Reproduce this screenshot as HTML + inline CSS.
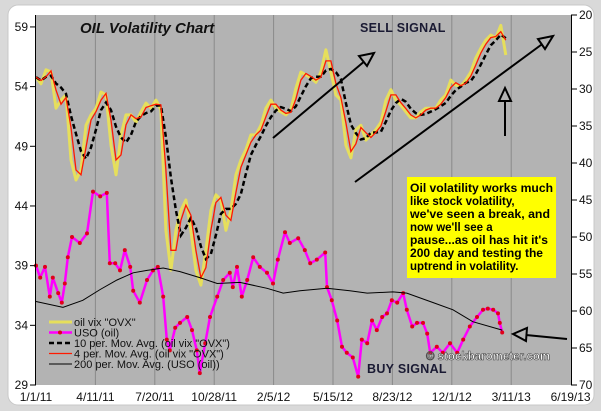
<!DOCTYPE html>
<html><head><meta charset="utf-8"><style>
html,body{margin:0;padding:0;background:#d9d9d9;}
svg{display:block;font-family:"Liberation Sans",Arial,sans-serif;}
</style></head><body>
<svg id="chart" width="601" height="411" viewBox="0 0 601 411">
<rect x="0" y="0" width="601" height="411" fill="#d9d9d9"/>
<rect x="8" y="5" width="586" height="400" rx="10" fill="#ffffff" stroke="#c8c8c8"/>
<rect x="36" y="15" width="535" height="370" fill="#b3b3b3"/>
<g id="grid"></g>
<g id="series"></g>
<g id="axes"></g>
<text x="80" y="33" font-size="15" font-weight="bold" font-style="italic" fill="#111">OIL  Volatility Chart</text>
<text x="360" y="32" font-size="12.5" font-weight="bold" fill="#1a1a33" style="letter-spacing:0.3px">SELL  SIGNAL</text>
<text x="367" y="373" font-size="12.5" font-weight="bold" fill="#1a1a33" style="letter-spacing:0.3px">BUY  SIGNAL</text>
<g stroke="#000" stroke-width="2" fill="none">
<line x1="273" y1="138" x2="366" y2="60"/>
<polygon points="374,53 359,56 367,66" fill="#b3b3b3"/>
<line x1="355" y1="182" x2="545" y2="42"/>
<polygon points="553,36 538,39 545,49" fill="#b3b3b3"/>
<line x1="505" y1="136" x2="505" y2="101"/>
<polygon points="505,88 499,101 511,101" fill="#b3b3b3"/>
<line x1="567" y1="339" x2="526" y2="335"/>
<polygon points="513,334 527,328 526,341" fill="#b3b3b3"/>
</g>
<rect x="407" y="177" width="149" height="101" fill="#ffff00"/>
<g font-size="11.5" font-weight="bold" fill="#000">
<text x="410" y="192" textLength="143" lengthAdjust="spacingAndGlyphs">Oil volatility works much</text>
<text x="410" y="205">like stock volatility,</text>
<text x="410" y="218" textLength="140" lengthAdjust="spacingAndGlyphs">we've seen a break, and</text>
<text x="410" y="231">now we'll see a</text>
<text x="410" y="244" textLength="138" lengthAdjust="spacingAndGlyphs">pause...as oil has hit it's</text>
<text x="410" y="257" textLength="133" lengthAdjust="spacingAndGlyphs">200 day and testing the</text>
<text x="410" y="270">uptrend in volatility.</text>
</g>
<text x="426" y="360" font-size="11.5" font-weight="bold" fill="#fff" stroke="#444" stroke-width="0.6">© stockbarometer.com</text>
<g id="legend" font-size="11" fill="#111"></g>
</svg>
<script>
// ---- data ----
var xTickLabels = ["1/1/11","4/11/11","7/20/11","10/28/11","2/5/12","5/15/12","8/23/12","12/1/12","3/11/13","6/19/13"];
var leftTicks = [59,54,49,44,39,34,29];
var rightTicks = [20,25,30,35,40,45,50,55,60,65,70];
var ovxStartDay = 0;
var ovxStepDays = 8.33;
var ovx = [28.4,29.3,27.4,27.7,32.6,31.5,30.8,39.6,42.3,40.9,34.9,33.5,32.6,30.4,30.8,37.6,41.6,36.2,33.5,33.5,34.5,33.1,31.9,32.6,31.5,32.8,49.1,54.5,49.1,46.4,45.0,49.1,54.5,56.5,51.8,46.4,44.3,45.0,49.1,46.4,41.6,39.6,38.2,36.2,36.2,34.9,32.6,31.5,32.6,33.1,33.5,32.8,29.9,27.7,28.1,28.5,29.1,27.7,24.7,27.7,30.8,31.5,37.6,39.3,35.5,34.9,36.9,36.2,35.5,34.5,31.5,30.1,31.5,32.2,33.1,33.9,33.9,33.1,32.6,32.6,32.6,31.5,30.8,28.8,29.5,29.6,28.8,27.7,25.8,24.5,23.4,22.7,23.1,21.4,25.4];
var usoDays = [0,7,15,23,28,37,43,48,53,60,73,85,95,107,118,123,132,140,148,157,162,173,185,195,203,212,218,223,232,240,252,260,268,273,282,290,302,312,323,328,335,343,352,362,373,385,395,403,415,423,437,448,457,468,482,485,493,502,510,518,528,537,543,552,560,568,577,585,593,602,612,618,627,635,645,652,657,668,678,690,702,712,723,735,745,753,762,770,773,777];
var usoVals = [39.0,38.0,38.9,36.4,38.0,36.7,35.9,37.5,39.7,41.4,40.9,41.7,45.2,44.8,45.1,39.2,39.2,38.6,40.3,38.9,36.9,35.9,37.8,38.6,38.9,36.4,32.8,31.9,33.8,34.2,34.7,33.6,31.9,30.0,32.5,34.7,36.4,37.8,38.4,37.2,38.9,36.4,37.8,39.7,38.9,38.4,37.5,39.5,41.8,40.9,41.3,40.3,39.2,39.5,40.1,37.2,36.1,34.4,32.2,31.7,31.3,29.7,32.8,32.5,34.4,33.6,34.7,35.0,36.1,35.9,36.7,35.3,33.9,34.2,34.2,33.3,31.7,32.2,31.7,32.5,31.7,32.8,33.9,34.7,35.3,35.4,35.3,35.0,34.2,33.4];
var ma200Days = [0,45,78,107,135,162,185,212,240,273,302,340,385,412,440,485,523,552,595,618,662,695,728,777];
var ma200Vals = [36.0,35.5,36.1,37.0,37.8,38.4,38.6,38.8,38.5,38.0,37.5,37.6,37.1,36.7,36.9,37.1,36.9,36.7,36.8,36.7,35.9,35.3,34.3,33.6];

// ---- scales ----
var X0=36, PX_PER_DAY=0.6;
function xScale(d){return X0 + d*PX_PER_DAY;}
function yLeft(v){return 15 + (60-v)*(370/31);}
function yRight(v){return 15 + (v-20)*(370/50);}
var NS="http://www.w3.org/2000/svg";
function mk(tag,attrs,parent){var e=document.createElementNS(NS,tag);for(var k in attrs)e.setAttribute(k,attrs[k]);parent.appendChild(e);return e;}
var grid=document.getElementById('grid'), axes=document.getElementById('axes'), series=document.getElementById('series'), legend=document.getElementById('legend');

xTickLabels.forEach(function(l,i){
  var x=xScale(i*99);
  if(i>0&&i<xTickLabels.length-1){var g=mk('line',{x1:x,y1:15,x2:x,y2:385,stroke:'#8a8a8a','stroke-width':1},grid);
  
  }
  var t=mk('text',{x:x,y:401,'font-size':12,'text-anchor':'middle',fill:'#111'},axes);t.textContent=l;
  
  
});
var la=mk('line',{x1:35.5,y1:15,x2:35.5,y2:385,stroke:'#000','stroke-width':1},axes);


var ra=mk('line',{x1:571.5,y1:15,x2:571.5,y2:385,stroke:'#000','stroke-width':1},axes);


leftTicks.forEach(function(v){var y=yLeft(v);
  mk('line',{x1:30,y1:y,x2:36,y2:y,stroke:'#000'},axes);
  var t=mk('text',{x:28,y:y+4,'font-size':12,'text-anchor':'end',fill:'#111'},axes);t.textContent=v;
  
  });
rightTicks.forEach(function(v){var y=yRight(v);
  mk('line',{x1:571,y1:y,x2:577,y2:y,stroke:'#000'},axes);
  var t=mk('text',{x:579,y:y+4,'font-size':12,fill:'#111'},axes);t.textContent=v;
  
  });

function pathFrom(days,vals,ys){return days.map(function(d,i){return (i?'L':'M')+xScale(d).toFixed(1)+','+ys(vals[i]).toFixed(1);}).join(' ');}
var ovxDays=ovx.map(function(_,i){return ovxStartDay+i*ovxStepDays;});
function ma(arr,n){return arr.map(function(_,i){var s=0,c=0;for(var j=Math.max(0,i-n+1);j<=i;j++){s+=arr[j];c++;}return s/c;});}
var ma4=ma(ovx,2), ma10=ma(ovx,4);

var p1=mk('path',{d:pathFrom(ovxDays,ovx,yRight),fill:'none',stroke:'#e6df5c','stroke-width':3,'stroke-linejoin':'round'},series);


var p2=mk('path',{d:pathFrom(ovxDays,ma10,yRight),fill:'none',stroke:'#000','stroke-width':2.5,'stroke-dasharray':'5,3'},series);


var p3=mk('path',{d:pathFrom(ovxDays,ma4,yRight),fill:'none',stroke:'#ff1a00','stroke-width':1.3},series);


var p4=mk('path',{d:pathFrom(usoDays,usoVals,yLeft),fill:'none',stroke:'#ff00ff','stroke-width':2.5,'stroke-linejoin':'round'},series);


usoDays.forEach(function(d,i){var c=mk('circle',{cx:xScale(d),cy:yLeft(usoVals[i]),r:2,fill:'#e0001a'},series);
  
  });
var p5=mk('path',{d:pathFrom(ma200Days,ma200Vals,yLeft),fill:'none',stroke:'#000','stroke-width':1},series);



var leg=[['oil vix "OVX"','#e6df5c',3,''],['USO (oil)','#ff00ff',2.5,''],['10 per. Mov. Avg. (oil vix "OVX")','#000',2.5,'5,3'],['4 per. Mov. Avg. (oil vix "OVX")','#ff1a00',1.3,''],['200 per. Mov. Avg. (USO (oil))','#000',1,'']];
leg.forEach(function(e,i){var y=322+i*10.5;
  var l=mk('line',{x1:49,y1:y,x2:72,y2:y,stroke:e[1],'stroke-width':e[2],'stroke-dasharray':e[3]||'none'},legend);
  
  
  if(i==1){mk('circle',{cx:60,cy:y,r:2,fill:'#e0001a'},legend);}
  var t=mk('text',{x:74,y:y+4,'font-size':11},legend);t.textContent=e[0];
  
  });
</script>
</body></html>
